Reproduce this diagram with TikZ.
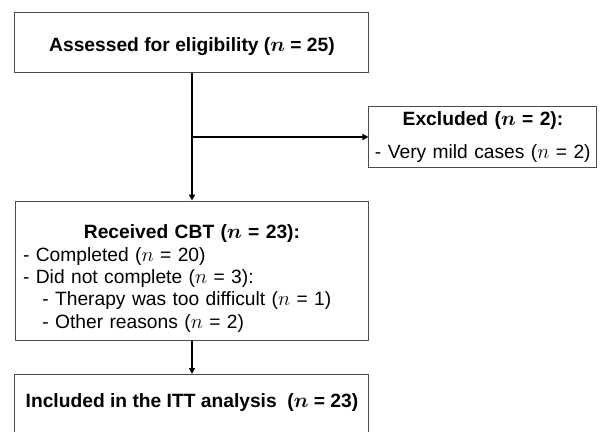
\documentclass[tikz,border=0pt]{standalone}
\usepackage{fontspec}
\setmainfont{Liberation Sans}
\usepackage{tikz}
\usetikzlibrary{arrows.meta, positioning, calc}

\begin{document}
\begin{tikzpicture}[
    font=\fontsize{19.3}{22.5}\selectfont,
    kotak/.style={draw=black!70, line width=1bp, align=center, inner xsep=8bp},
    judul/.style={font=\fontsize{19.3}{22.5}\selectfont\bfseries\boldmath},
    panah/.style={-{Triangle[length=6bp, width=6bp]}, line width=1.6bp},
    isi/.style={align=left, text width=#1}
  ]
    \clip (0,0) rectangle (21.167,-15.205);
    \node[kotak, judul, minimum width=12.488cm, minimum height=2.117cm,
          text height=24bp, text depth=5bp] (assess) at (6.773,-1.482)
      {Assessed for eligibility ($n$ = 25)};
    \node[kotak, isi=7.62cm, inner xsep=6bp, minimum height=2.117cm] (excl) at (17.039,-4.833)
      {{\centering\bfseries\boldmath Excluded ($n$ = 2):\par}\vspace{10bp}
       - Very mild cases ($n$ = 2)};
    \node[kotak, isi=11.92cm, minimum height=4.904cm] (cbt) at (6.773,-9.543)
      {{\centering\bfseries\boldmath\rule{0pt}{30bp}Received CBT ($n$ = 23):\par}
       - Completed ($n$ = 20)\\
       - Did not complete ($n$ = 3):\\
       \quad- Therapy was too difficult ($n$ = 1)\\
       \quad- Other reasons ($n$ = 2)};
    % box is cut by the bottom edge
    \node[kotak, judul, minimum width=12.488cm, anchor=north, inner ysep=0pt,
          text height=32.7bp, text depth=30bp] (itt) at (6.773,-13.194)
      {Included in the ITT analysis\ \ ($n$ = 23)};
    \draw[panah] (assess.south) -- (cbt.north);
    \draw[panah] (assess.south |- excl.west) -- (excl.west);
    \draw[panah] (cbt.south) -- (itt.north);
  \end{tikzpicture}
\end{document}
